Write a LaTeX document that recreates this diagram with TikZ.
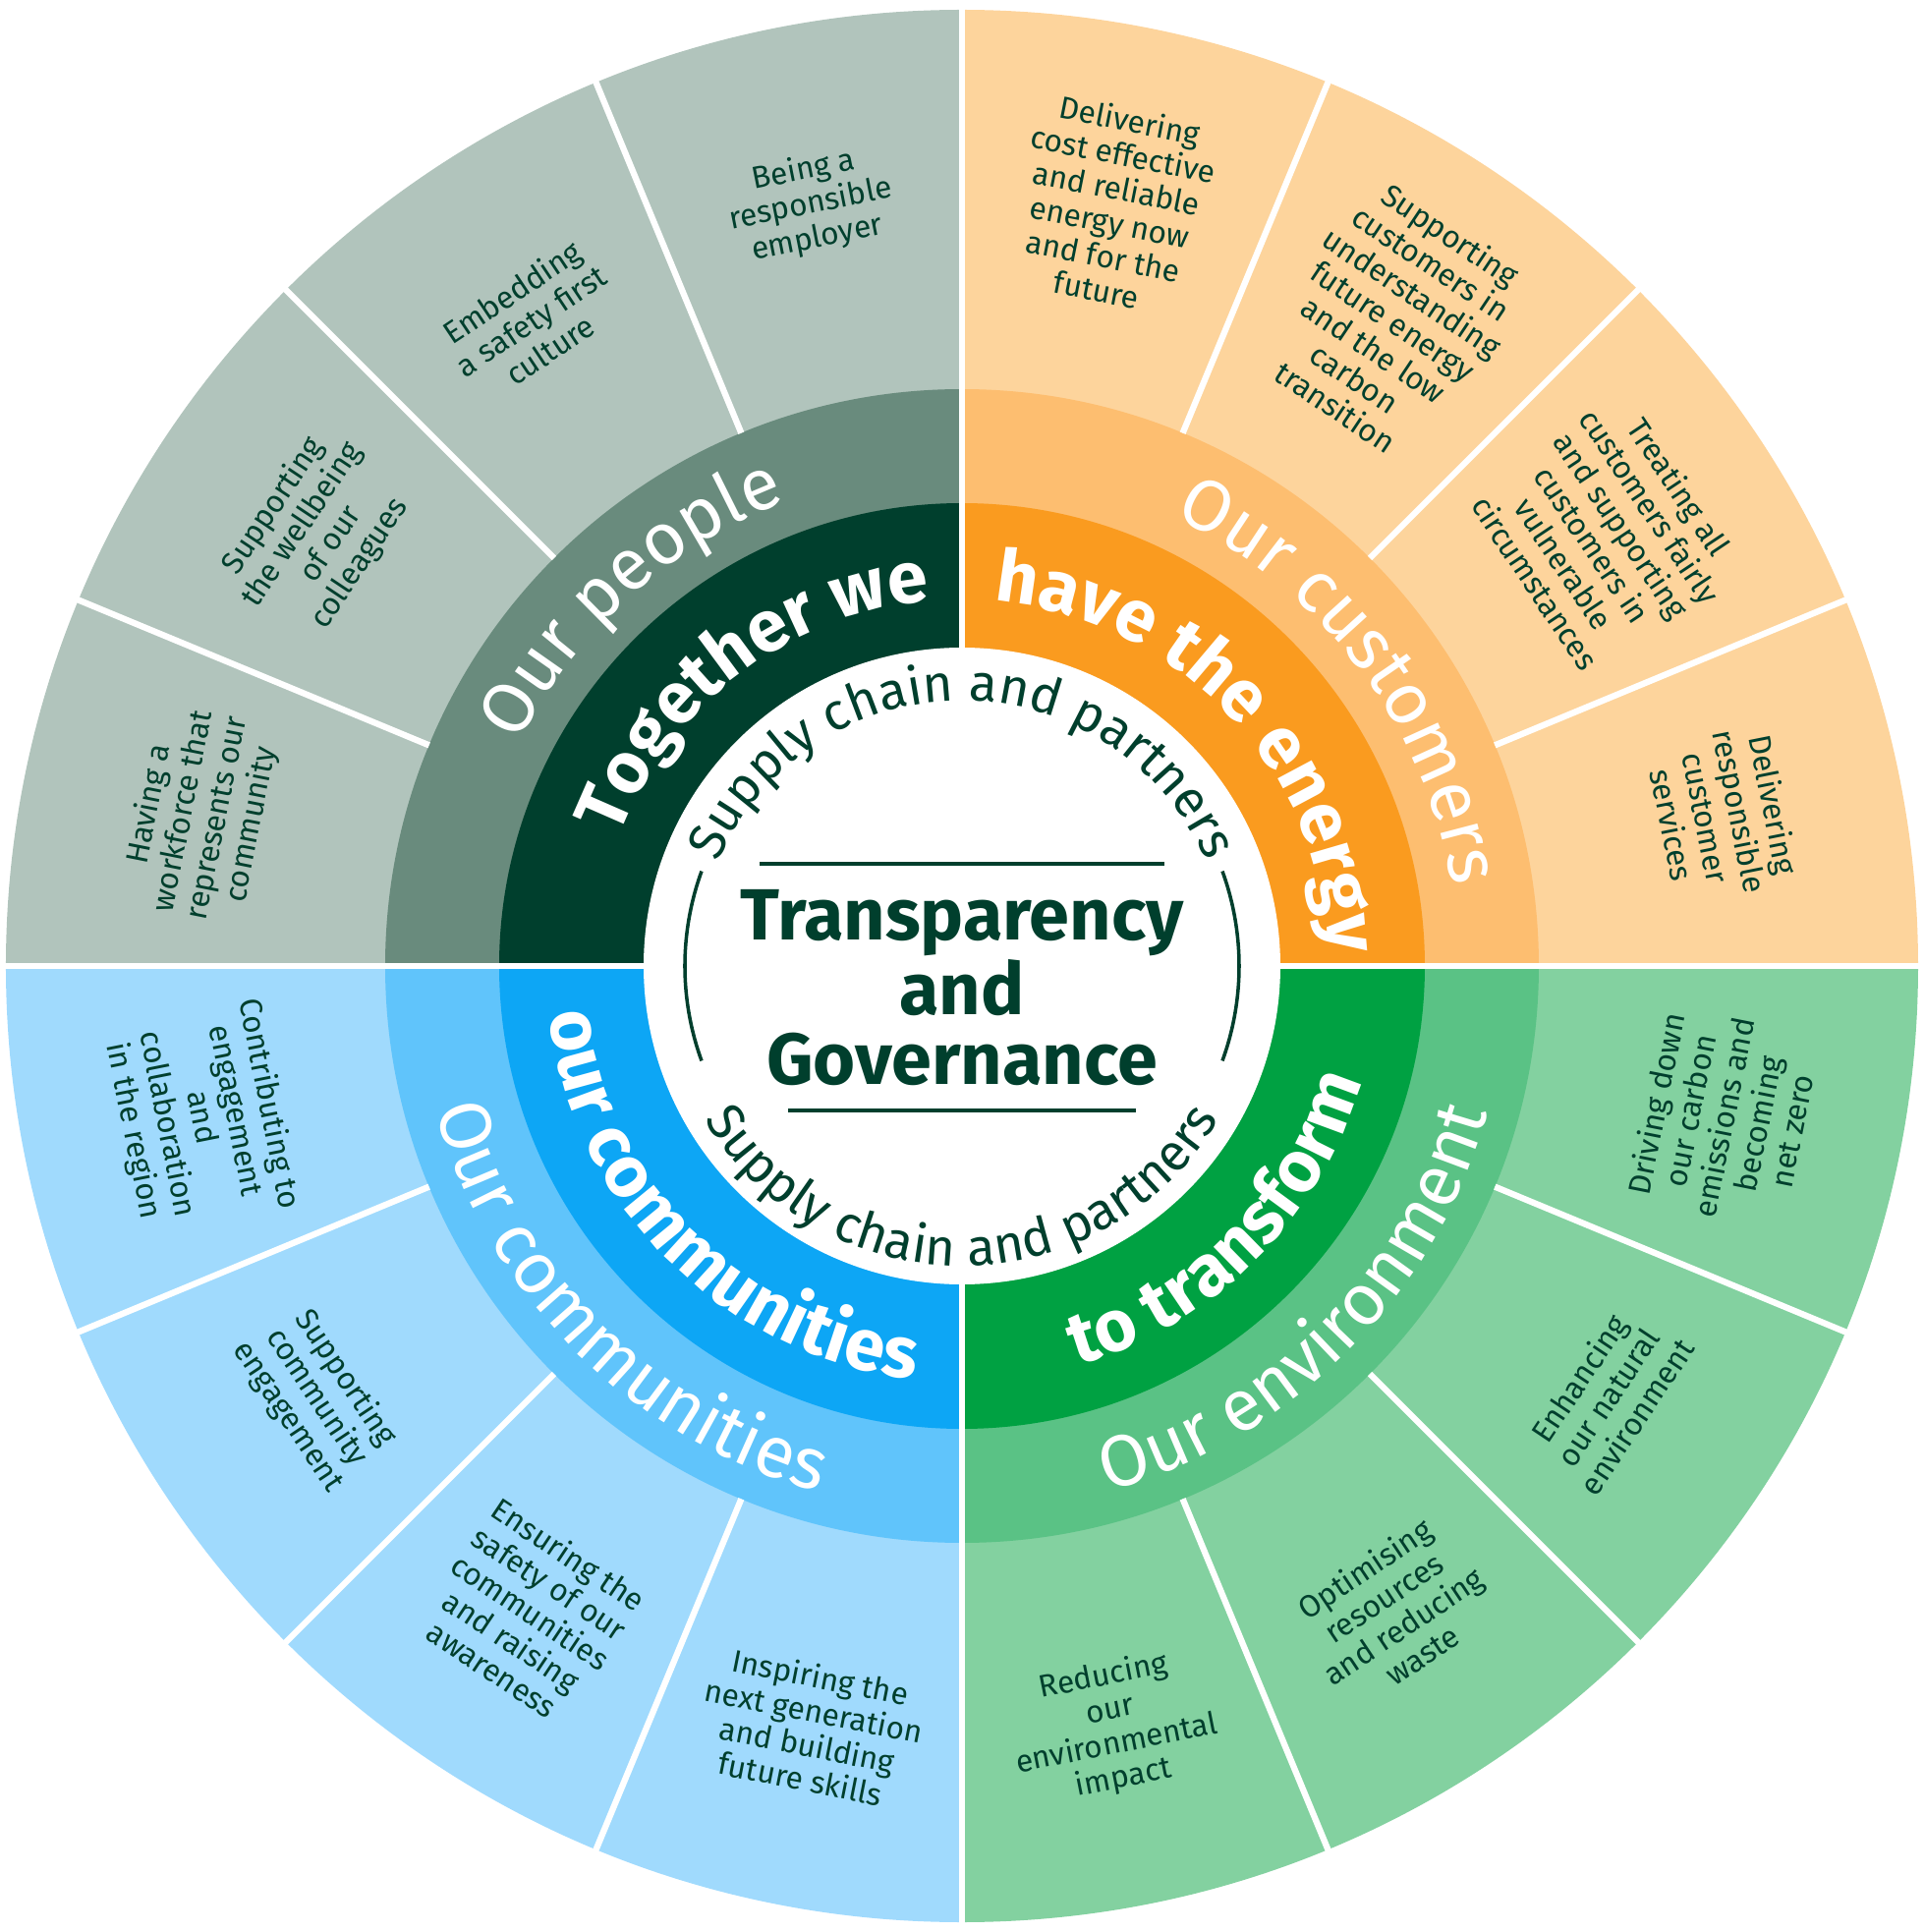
\documentclass[tikz,border=0pt]{standalone}
\usepackage{fontspec}
\setmainfont{Fira Sans}
\usetikzlibrary{decorations.text}

\definecolor{pplOuter}{HTML}{B1C4BC}
\definecolor{pplMid}{HTML}{698B7D}
\definecolor{pplInner}{HTML}{003F2D}
\definecolor{cusOuter}{HTML}{FDD49C}
\definecolor{cusMid}{HTML}{FDBE70}
\definecolor{cusInner}{HTML}{FA9B1F}
\definecolor{envOuter}{HTML}{83D1A0}
\definecolor{envMid}{HTML}{5AC285}
\definecolor{envInner}{HTML}{00A142}
\definecolor{comOuter}{HTML}{A0DAFD}
\definecolor{comMid}{HTML}{60C4FB}
\definecolor{comInner}{HTML}{0DA6F5}
\definecolor{darkText}{HTML}{003F2D}

\newcommand{\pie}[4]{\fill[#1] (0,0) -- (#2:#4) arc[start angle=#2, end angle=#3, radius=#4] -- cycle;}
\newcommand{\midfont}{\fontsize{21}{21}\selectfont}
\newcommand{\boldfont}{\fontsize{21}{21}\selectfont\bfseries}
\newcommand{\supfont}{\fontsize{15}{15}\selectfont}

\tikzset{
  segtext/.style={align=center, text=darkText, font=\fontsize{9}{10}\selectfont, inner sep=0pt},
  sep/.style={white, line width=1.8pt},
  toparc/.style={decorate, decoration={text along path, text align=center, text color=#1}},
  botarc/.style={decorate, decoration={text along path, text align=center, text color=#1}}
}

\begin{document}
\begin{tikzpicture}
  \useasboundingbox (-9.79,-9.83) rectangle (9.79,9.83);

  % Quadrant fills
  \pie{pplOuter}{90}{180}{9.73}
  \pie{cusOuter}{0}{90}{9.73}
  \pie{envOuter}{270}{360}{9.73}
  \pie{comOuter}{180}{270}{9.73}
  \pie{pplMid}{90}{180}{5.87}
  \pie{cusMid}{0}{90}{5.87}
  \pie{envMid}{270}{360}{5.87}
  \pie{comMid}{180}{270}{5.87}
  \pie{pplInner}{90}{180}{4.71}
  \pie{cusInner}{0}{90}{4.71}
  \pie{envInner}{270}{360}{4.71}
  \pie{comInner}{180}{270}{4.71}
  \fill[white] (0,0) circle[radius=3.24];

  % Separators
  \foreach \a in {0,90,180,270}
    \draw[sep] (\a:3.24) -- (\a:9.8);
  \foreach \a in {22.5,45,67.5,112.5,135,157.5,202.5,225,247.5,292.5,315,337.5}
    \draw[sep] (\a:5.87) -- (\a:9.8);

  % Outer segments
  \node[segtext, rotate=11.25] (employer) at (101.25:7.9) {Being a\\responsible\\employer};
  \node[segtext, rotate=33.75] (safety) at (123.75:7.9) {Embedding\\a safety first\\culture};
  \node[segtext, rotate=56.25] (wellbeing) at (146.25:7.9) {Supporting\\the wellbeing\\of our\\colleagues};
  \node[segtext, rotate=78.75] (workforce) at (168.75:7.9) {Having a\\workforce that\\represents our\\community};
  \node[segtext, rotate=-11.25] (costeff) at (78.75:7.9) {Delivering\\cost effective\\and reliable\\energy now\\and for the\\future};
  \node[segtext, rotate=-33.75] (understand) at (56.25:7.9) {Supporting\\customers in\\understanding\\future energy\\and the low\\carbon\\transition};
  \node[segtext, rotate=-56.25] (fairly) at (33.75:7.9) {Treating all\\customers fairly\\and supporting\\customers in\\vulnerable\\circumstances};
  \node[segtext, rotate=-78.75] (services) at (11.25:7.9) {Delivering\\responsible\\customer\\services};
  \node[segtext, rotate=78.75] (netzero) at (-11.25:7.9) {Driving down\\our carbon\\emissions and\\becoming\\net zero};
  \node[segtext, rotate=56.25] (natural) at (-33.75:7.9) {Enhancing\\our natural\\environment};
  \node[segtext, rotate=33.75] (waste) at (-56.25:7.9) {Optimising\\resources\\and reducing\\waste};
  \node[segtext, rotate=11.25] (impact) at (-78.75:7.9) {Reducing\\our\\environmental\\impact};
  \node[segtext, rotate=-11.25] (skills) at (258.75:7.9) {Inspiring the\\next generation\\and building\\future skills};
  \node[segtext, rotate=-33.75] (awareness) at (236.25:7.9) {Ensuring the\\safety of our\\communities\\and raising\\awareness};
  \node[segtext, rotate=-56.25] (commeng) at (213.75:7.9) {Supporting\\community\\engagement};
  \node[segtext, rotate=-78.75] (region) at (191.25:7.9) {Contributing to\\engagement\\and\\collaboration\\in the region};

  % Middle ring labels
  \path[toparc=white, decoration={text={|\midfont|Our people}}] (177:5.05) arc[start angle=177, end angle=87, radius=5.05];
  \path[toparc=white, decoration={text={|\midfont|Our customers}}] (82:5.05) arc[start angle=82, end angle=-8, radius=5.05];
  \path[botarc=white, decoration={text={|\midfont|Our communities}}] (180:5.55) arc[start angle=180, end angle=270, radius=5.55];
  \path[botarc=white, decoration={text={|\midfont|Our environment}}] (270:5.55) arc[start angle=270, end angle=360, radius=5.55];

  % Inner ring labels
  \path[toparc=white, decoration={text align=right, text={|\boldfont|Together we}}] (200:3.73) arc[start angle=200, end angle=95, radius=3.73];
  \path[toparc=white, decoration={text align=left, text={|\boldfont|have the energy}}] (85:3.73) arc[start angle=85, end angle=-20, radius=3.73];
  \path[botarc=white, decoration={text={|\boldfont|our communities}}] (180:4.23) arc[start angle=180, end angle=270, radius=4.23];
  \path[botarc=white, decoration={text={|\boldfont|to transform}}] (270:4.23) arc[start angle=270, end angle=360, radius=4.23];

  % Centre
  \path[toparc=darkText, decoration={text={|\supfont|Supply chain and partners}}] (180:2.7) arc[start angle=180, end angle=0, radius=2.7];
  \path[botarc=darkText, decoration={text={|\supfont|Supply chain and partners}}] (180:3.05) arc[start angle=180, end angle=360, radius=3.05];
  \draw[darkText, line width=1pt] (160:2.82) arc[start angle=160, end angle=200, radius=2.82];
  \draw[darkText, line width=1pt] (-20:2.82) arc[start angle=-20, end angle=20, radius=2.82];
  \node[align=center, text=darkText, font=\fontsize{21}{20}\selectfont\bfseries] (centre) at (0,-0.22) {Transparency\\and\\Governance};
  \coordinate (topL) at (-2.06,1.04);
  \coordinate (topR) at (2.06,1.04);
  \coordinate (botL) at (-1.77,-1.47);
  \coordinate (botR) at (1.77,-1.47);
  \draw[darkText, line width=1.2pt] (topL) -- (topR);
  \draw[darkText, line width=1.2pt] (botL) -- (botR);
\end{tikzpicture}
\end{document}
